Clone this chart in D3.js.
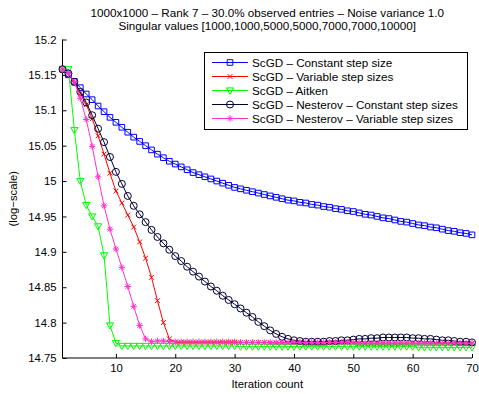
<!DOCTYPE html>
<html>
<head>
<meta charset="utf-8">
<script src="https://cdn.jsdelivr.net/npm/d3@7/dist/d3.min.js"></script>
<style>
    body { margin: 0; background: #fff; }
    text { font-family: "Liberation Sans", Arial, sans-serif; fill: #000; }
</style>
</head>
<body>
<svg id="chart"></svg>
<script>
var titleLines = ["1000x1000 \u2013 Rank 7 \u2013 30.0% observed entries \u2013 Noise variance 1.0",
    "Singular values [1000,1000,5000,5000,7000,7000,10000]"];

var seriesNames = ["ScGD \u2013 Constant step size", "ScGD \u2013 Variable step sizes", "ScGD \u2013 Aitken",
    "ScGD \u2013 Nesterov \u2013 Constant step sizes", "ScGD \u2013 Nesterov \u2013 Variable step sizes"];

var xTicks = [10, 20, 30, 40, 50, 60, 70];
var yTicks = [14.75, 14.8, 14.85, 14.9, 14.95, 15, 15.05, 15.1, 15.15, 15.2];

var constantStep = [15.158, 15.150, 15.141, 15.132, 15.123, 15.115, 15.106, 15.098, 15.090, 15.083,
    15.076, 15.069, 15.062, 15.056, 15.050, 15.044, 15.038, 15.033, 15.028, 15.024,
    15.020, 15.016, 15.012, 15.009, 15.006, 15.003, 15.000, 14.997, 14.994, 14.991,
    14.989, 14.987, 14.985, 14.983, 14.981, 14.979, 14.977, 14.975, 14.973, 14.972,
    14.970, 14.969, 14.967, 14.966, 14.964, 14.963, 14.961, 14.960, 14.958, 14.957,
    14.955, 14.953, 14.952, 14.950, 14.948, 14.947, 14.945, 14.943, 14.942, 14.940,
    14.938, 14.937, 14.935, 14.934, 14.932, 14.930, 14.929, 14.927, 14.926, 14.924];

var variableStep = [15.158, 15.152, 15.138, 15.124, 15.108, 15.088, 15.064, 15.038, 15.011, 14.986,
    14.969, 14.952, 14.935, 14.914, 14.891, 14.864, 14.831, 14.800, 14.777, 14.772,
    14.772, 14.772, 14.772, 14.772, 14.772, 14.772, 14.772, 14.772, 14.772, 14.772,
    14.772, 14.772, 14.772, 14.772, 14.772, 14.771, 14.771, 14.771, 14.771, 14.771,
    14.771, 14.771, 14.771, 14.771, 14.771, 14.771, 14.771, 14.771, 14.771, 14.771,
    14.770, 14.770, 14.770, 14.770, 14.770, 14.770, 14.770, 14.770, 14.770, 14.770,
    14.770, 14.770, 14.770, 14.770, 14.770, 14.770, 14.770, 14.770, 14.770, 14.770];

var aitken = [15.158, 15.158, 15.072, 15.000, 14.966, 14.950, 14.936, 14.895, 14.796, 14.771,
    14.767, 14.767, 14.767, 14.767, 14.767, 14.767, 14.767, 14.767, 14.767, 14.767,
    14.767, 14.767, 14.767, 14.767, 14.767, 14.767, 14.767, 14.767, 14.767, 14.767,
    14.766, 14.766, 14.766, 14.766, 14.766, 14.766, 14.766, 14.766, 14.766, 14.766,
    14.766, 14.766, 14.766, 14.766, 14.766, 14.766, 14.766, 14.766, 14.766, 14.766,
    14.766, 14.766, 14.766, 14.766, 14.766, 14.766, 14.766, 14.766, 14.766, 14.766,
    14.765, 14.765, 14.765, 14.765, 14.765, 14.765, 14.765, 14.765, 14.765, 14.765];

var nesterovConstant = [15.158, 15.152, 15.140, 15.126, 15.111, 15.093, 15.074, 15.055, 15.034, 15.013,
    14.996, 14.979, 14.965, 14.953, 14.942, 14.931, 14.921, 14.912, 14.903, 14.894,
    14.887, 14.879, 14.872, 14.865, 14.858, 14.851, 14.845, 14.838, 14.832, 14.826,
    14.820, 14.814, 14.808, 14.801, 14.795, 14.789, 14.784, 14.780, 14.777, 14.775,
    14.774, 14.773, 14.773, 14.773, 14.773, 14.774, 14.774, 14.775, 14.775, 14.776,
    14.777, 14.777, 14.778, 14.778, 14.779, 14.779, 14.779, 14.779, 14.779, 14.778,
    14.778, 14.777, 14.777, 14.776, 14.775, 14.775, 14.774, 14.773, 14.773, 14.772];

var nesterovVariable = [15.158, 15.152, 15.140, 15.117, 15.087, 15.049, 15.006, 14.965, 14.932, 14.904,
    14.878, 14.851, 14.823, 14.796, 14.777, 14.773, 14.774, 14.774, 14.773, 14.773,
    14.773, 14.773, 14.773, 14.773, 14.773, 14.773, 14.773, 14.773, 14.773, 14.773,
    14.772, 14.772, 14.772, 14.772, 14.772, 14.772, 14.772, 14.772, 14.772, 14.772,
    14.772, 14.772, 14.772, 14.772, 14.772, 14.772, 14.772, 14.772, 14.772, 14.772,
    14.771, 14.771, 14.771, 14.771, 14.771, 14.771, 14.771, 14.771, 14.771, 14.771,
    14.771, 14.771, 14.771, 14.771, 14.771, 14.771, 14.771, 14.771, 14.771, 14.771];

function drawChart(){
    var width = 479;
    var height = 394;
    var left = 62.5, right = 472, top = 39.5, bottom = 358;

    var svg = d3.select("#chart")
        .attr("width", width)
        .attr("height", height);

    var x = d3.scaleLinear().domain([1, 70]).range([left, right]);
    var y = d3.scaleLinear().domain([14.75, 15.2]).range([bottom, top]);

    var series = [
        {name: seriesNames[0], values: constantStep, color: "#0000ff", marker: "square"},
        {name: seriesNames[1], values: variableStep, color: "#ff0000", marker: "x"},
        {name: seriesNames[2], values: aitken, color: "#00ff00", marker: "triangle"},
        {name: seriesNames[3], values: nesterovConstant, color: "#000033", marker: "circle"},
        {name: seriesNames[4], values: nesterovVariable, color: "#ff33cc", marker: "star"}
    ];

    var markerPaths = {
        square: "M-2.8,-2.8H2.8V2.8H-2.8Z",
        x: "M-2.4,-2.4L2.4,2.4M-2.4,2.4L2.4,-2.4",
        triangle: "M-3.6,-2.6H3.6L0,3.6Z",
        circle: d3.symbol().type(d3.symbolCircle).size(Math.PI * 3.5 * 3.5)(),
        star: "M-3.2,0H3.2M0,-3.2V3.2M-2.3,-2.3L2.3,2.3M-2.3,2.3L2.3,-2.3"
    };

    /*****************  Title **********************/

    svg.selectAll(".title")
        .data(titleLines)
        .enter()
        .append("text")
        .attr("class", "title")
        .attr("x", (left + right) / 2)
        .attr("y", function (d, i){
            return 17 + i * 13;
        })
        .attr("text-anchor", "middle")
        .attr("font-size", "11.7px")
        .text(function (d){
            return d;
        });

    /*****************  Axes **********************/

    var xAxis = svg.append("g")
        .attr("transform", "translate(0," + bottom + ")")
        .call(d3.axisBottom(x).tickValues(xTicks).tickSizeInner(-4).tickSizeOuter(0).tickPadding(6));

    var yAxis = svg.append("g")
        .attr("transform", "translate(" + left + ",0)")
        .call(d3.axisLeft(y).tickValues(yTicks).tickSizeInner(-4).tickSizeOuter(0).tickPadding(6)
            .tickFormat(function (d){ return d3.format("~g")(d); }));

    svg.selectAll(".tick text")
        .attr("font-size", "11.3px")
        .attr("font-family", "Liberation Sans, Arial, sans-serif")
        .attr("fill", "#000");
    svg.selectAll(".domain, .tick line")
        .attr("stroke", "#000");

    // x axis line extends from the y axis
    xAxis.select(".domain").attr("d", "M" + left + ",0H" + right);
    yAxis.select(".domain").attr("d", "M0," + bottom + "V" + top);

    svg.append("text")
        .attr("x", (left + right) / 2)
        .attr("y", 388)
        .attr("text-anchor", "middle")
        .attr("font-size", "11.3px")
        .text("Iteration count");

    svg.append("text")
        .attr("transform", "translate(17," + ((top + bottom) / 2) + ") rotate(-90)")
        .attr("text-anchor", "middle")
        .attr("font-size", "11.3px")
        .text("(log\u2212scale)");

    /*****************  Lines and markers **********************/

    var line = d3.line()
        .x(function (d, i){ return x(i + 1); })
        .y(function (d){ return y(d); });

    series.forEach(function (s){
        var g = svg.append("g");
        g.append("path")
            .attr("d", line(s.values))
            .attr("fill", "none")
            .attr("stroke", s.color)
            .attr("stroke-width", 1);
        g.selectAll(".mark")
            .data(s.values)
            .enter()
            .append("path")
            .attr("transform", function (d, i){
                return "translate(" + x(i + 1) + "," + y(d) + ")";
            })
            .attr("d", markerPaths[s.marker])
            .attr("fill", "none")
            .attr("stroke", s.color)
            .attr("stroke-width", 1);
    });

    /*****************  Legend **********************/

    var legend = svg.append("g");
    legend.append("rect")
        .attr("x", 204.5)
        .attr("y", 52.5)
        .attr("width", 263)
        .attr("height", 77)
        .attr("fill", "#fff")
        .attr("stroke", "#000");

    var rows = legend.selectAll(".row")
        .data(series)
        .enter()
        .append("g")
        .attr("transform", function (d, i){
            return "translate(0," + (62.5 + i * 14) + ")";
        });

    rows.append("line")
        .attr("x1", 212)
        .attr("x2", 248)
        .attr("stroke", function (d){ return d.color; });
    rows.append("path")
        .attr("transform", "translate(230,0)")
        .attr("d", function (d){ return markerPaths[d.marker]; })
        .attr("fill", "none")
        .attr("stroke", function (d){ return d.color; });
    rows.append("text")
        .attr("x", 252)
        .attr("y", 4)
        .attr("font-size", "11.7px")
        .text(function (d){ return d.name; });
}

drawChart();
</script>
</body>
</html>
